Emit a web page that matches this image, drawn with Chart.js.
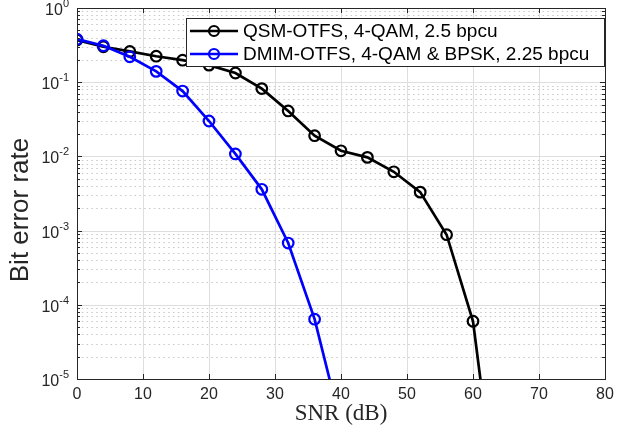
<!DOCTYPE html>
<html>
<head>
<meta charset="utf-8">
<script src="https://cdn.jsdelivr.net/npm/chart.js@4.4.0/dist/chart.umd.min.js"></script>
<style>
  body { margin: 0; background: #fff; }
  #wrap { width: 620px; height: 427px; }
</style>
</head>
<body>
<div id="wrap"><canvas id="berChart" width="620" height="427"></canvas></div>
<script>
// SNR points (dB) and BER
const snrQsm = [0, 4, 8, 12, 16, 20, 24, 28, 32, 36, 40, 44, 48, 52, 56, 60, 64];
const berQsm = [0.37, 0.30, 0.26, 0.224, 0.198, 0.17, 0.133, 0.082, 0.041, 0.019, 0.0119, 0.0097, 0.0062, 0.0033, 8.8e-4, 6.0e-5, 1.0e-7];
const snrDmim = [0, 4, 8, 12, 16, 20, 24, 28, 32, 36, 40];
const berDmim = [0.38, 0.31, 0.22, 0.14, 0.076, 0.030, 0.0108, 0.0036, 6.8e-4, 6.4e-5, 2.4e-6];

const seriesNames = ["QSM-OTFS, 4-QAM, 2.5 bpcu", "DMIM-OTFS, 4-QAM & BPSK, 2.25 bpcu"];
const seriesColors = ["#000000", "#0000ff"];

const xTicks = [0, 10, 20, 30, 40, 50, 60, 70, 80];
const yExponents = [-5, -4, -3, -2, -1, 0];

const axisColor = "#262626";

function toPoints(xs, ys) {
  return xs.map((x, i) => ({ x: x, y: ys[i] }));
}

// MATLAB style box, grid, ticks, labels and legend
const matlabAxes = {
  id: "matlabAxes",
  beforeDatasetsDraw(chart) {
    const ctx = chart.ctx;
    const a = chart.chartArea;
    const xs = chart.scales.x;
    const ys = chart.scales.y;
    ctx.save();
    // minor dotted y grid
    ctx.strokeStyle = "#c8c8c8";
    ctx.lineWidth = 1;
    ctx.setLineDash([1.5, 3.3]);
    yExponents.forEach(e => {
      if (e === 0) return;
      for (let m = 2; m <= 9; m++) {
        const py = Math.round(ys.getPixelForValue(m * Math.pow(10, e))) + 0.5;
        ctx.beginPath();
        ctx.moveTo(a.left, py);
        ctx.lineTo(a.right, py);
        ctx.stroke();
      }
    });
    // major grid
    ctx.setLineDash([]);
    ctx.strokeStyle = "#dedede";
    xTicks.forEach(t => {
      const px = Math.round(xs.getPixelForValue(t)) + 0.5;
      ctx.beginPath();
      ctx.moveTo(px, a.top);
      ctx.lineTo(px, a.bottom);
      ctx.stroke();
    });
    yExponents.forEach(e => {
      const py = Math.round(ys.getPixelForValue(Math.pow(10, e))) + 0.5;
      ctx.beginPath();
      ctx.moveTo(a.left, py);
      ctx.lineTo(a.right, py);
      ctx.stroke();
    });
    ctx.restore();
  },
  afterDatasetsDraw(chart) {
    const ctx = chart.ctx;
    const a = chart.chartArea;
    const xs = chart.scales.x;
    const ys = chart.scales.y;
    ctx.save();
    // box
    ctx.strokeStyle = axisColor;
    ctx.lineWidth = 1;
    ctx.strokeRect(Math.round(a.left) + 0.5, Math.round(a.top) + 0.5,
      Math.round(a.right - a.left), Math.round(a.bottom - a.top));
    // ticks
    ctx.beginPath();
    xTicks.forEach(t => {
      const px = Math.round(xs.getPixelForValue(t)) + 0.5;
      ctx.moveTo(px, a.bottom); ctx.lineTo(px, a.bottom - 5);
      ctx.moveTo(px, a.top); ctx.lineTo(px, a.top + 5);
    });
    yExponents.forEach(e => {
      const py = Math.round(ys.getPixelForValue(Math.pow(10, e))) + 0.5;
      ctx.moveTo(a.left, py); ctx.lineTo(a.left + 5, py);
      ctx.moveTo(a.right, py); ctx.lineTo(a.right - 5, py);
      if (e === 0) return;
      for (let m = 2; m <= 9; m++) {
        const my = Math.round(ys.getPixelForValue(m * Math.pow(10, e))) + 0.5;
        ctx.moveTo(a.left, my); ctx.lineTo(a.left + 3, my);
        ctx.moveTo(a.right, my); ctx.lineTo(a.right - 3, my);
      }
    });
    ctx.stroke();

    // x tick labels
    ctx.fillStyle = axisColor;
    ctx.font = "16px 'Liberation Sans', Arial, sans-serif";
    ctx.textAlign = "center";
    ctx.textBaseline = "middle";
    xTicks.forEach(t => {
      ctx.fillText(String(t), xs.getPixelForValue(t), a.bottom + 16);
    });

    // y tick labels 10^e
    yExponents.forEach(e => {
      const py = ys.getPixelForValue(Math.pow(10, e));
      const exp = String(e);
      ctx.font = "11px 'Liberation Sans', Arial, sans-serif";
      const ew = ctx.measureText(exp).width;
      const right = a.left - 8;
      ctx.textAlign = "left";
      ctx.textBaseline = "alphabetic";
      ctx.fillText(exp, right - ew, py - 1);
      ctx.font = "16px 'Liberation Sans', Arial, sans-serif";
      ctx.textAlign = "right";
      ctx.fillText("10", right - ew, py + 7);
    });

    // axis titles
    ctx.fillStyle = axisColor;
    ctx.font = "23px 'Liberation Serif', 'Times New Roman', serif";
    ctx.textAlign = "center";
    ctx.textBaseline = "middle";
    ctx.fillText("SNR (dB)", (a.left + a.right) / 2, 414);

    ctx.save();
    ctx.translate(21, 210);
    ctx.rotate(-Math.PI / 2);
    ctx.font = "26px 'Liberation Sans', Arial, sans-serif";
    ctx.fillText("Bit error rate", 0, 0);
    ctx.restore();

    // legend
    const box = { left: 186.5, top: 18.5, right: 604.5, bottom: 66.5 };
    ctx.fillStyle = "#ffffff";
    ctx.fillRect(box.left, box.top, box.right - box.left, box.bottom - box.top);
    ctx.strokeStyle = axisColor;
    ctx.lineWidth = 1;
    ctx.strokeRect(box.left, box.top, box.right - box.left, box.bottom - box.top);
    const rows = [31, 54];
    seriesNames.forEach((name, i) => {
      const y = rows[i];
      ctx.strokeStyle = seriesColors[i];
      ctx.lineWidth = 2.7;
      ctx.beginPath();
      ctx.moveTo(190, y); ctx.lineTo(238, y);
      ctx.stroke();
      ctx.lineWidth = 2.2;
      ctx.beginPath();
      ctx.arc(214, y, 5, 0, Math.PI * 2);
      ctx.stroke();
      ctx.fillStyle = "#000000";
      ctx.font = "19px 'Liberation Sans', Arial, sans-serif";
      ctx.textAlign = "left";
      ctx.textBaseline = "middle";
      ctx.fillText(name, 243, y + 1);
    });
    ctx.restore();
  }
};

new Chart(document.getElementById("berChart"), {
  type: "line",
  data: {
    datasets: [
      {
        label: seriesNames[0],
        data: toPoints(snrQsm, berQsm),
        borderColor: seriesColors[0],
        borderWidth: 2.7,
        pointRadius: 5.3,
        pointBorderWidth: 2.2,
        pointBackgroundColor: "rgba(0,0,0,0)",
        pointBorderColor: seriesColors[0],
        order: 1
      },
      {
        label: seriesNames[1],
        data: toPoints(snrDmim, berDmim),
        borderColor: seriesColors[1],
        borderWidth: 2.7,
        pointRadius: 5.3,
        pointBorderWidth: 2.2,
        pointBackgroundColor: "rgba(0,0,0,0)",
        pointBorderColor: seriesColors[1],
        order: 0
      }
    ]
  },
  options: {
    responsive: false,
    animation: false,
    devicePixelRatio: 1,
    layout: { padding: { left: 77, right: 15, top: 8, bottom: 48 } },
    plugins: {
      legend: { display: false },
      tooltip: { enabled: false }
    },
    scales: {
      x: { type: "linear", min: 0, max: 80, display: false },
      y: { type: "logarithmic", min: 1e-5, max: 1, display: false }
    }
  },
  plugins: [matlabAxes]
});
</script>
</body>
</html>
